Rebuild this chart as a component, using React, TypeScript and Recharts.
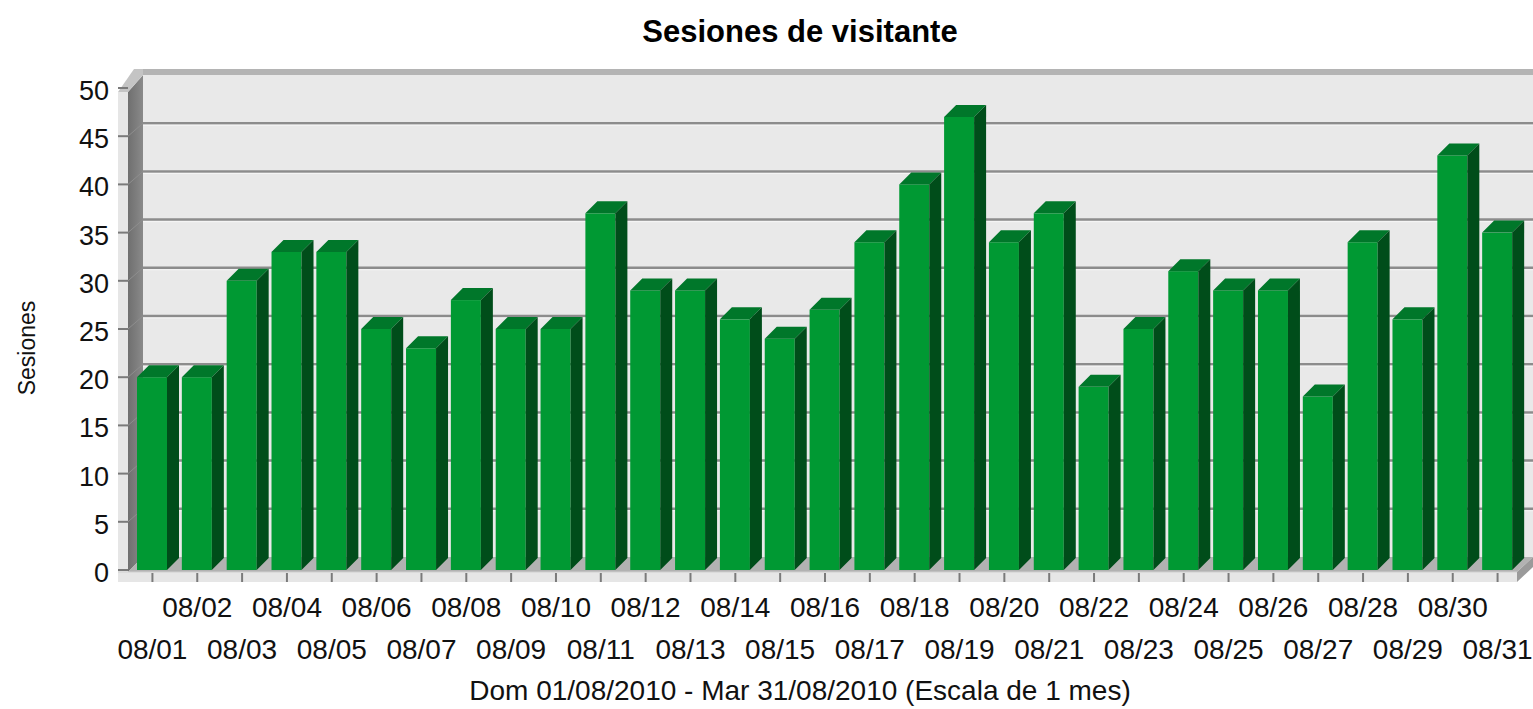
import React from 'react';
import { BarChart, Bar, XAxis, YAxis, ReferenceArea } from 'recharts';

const days = [
  '08/01', '08/02', '08/03', '08/04', '08/05', '08/06', '08/07', '08/08', '08/09', '08/10',
  '08/11', '08/12', '08/13', '08/14', '08/15', '08/16', '08/17', '08/18', '08/19', '08/20',
  '08/21', '08/22', '08/23', '08/24', '08/25', '08/26', '08/27', '08/28', '08/29', '08/30', '08/31',
];
const sessions = [
  20, 20, 30, 33, 33, 25, 23, 28, 25, 25,
  37, 29, 29, 26, 24, 27, 34, 40, 47, 34,
  37, 19, 25, 31, 29, 29, 18, 34, 26, 43, 35,
];
const yTicks = [0, 5, 10, 15, 20, 25, 30, 35, 40, 45, 50];

const data = days.map((day, i) => ({ day, sessions: sessions[i] }));

const FONT = '"Liberation Sans", Arial, sans-serif';
const DEPTH = 12; // depth of the 3d bars
const WALL = 13; // offset of the back wall

const Bar3D = (props: any) => {
  const { x, y, width, height } = props;
  if (!height || height <= 0) return null;
  const d = DEPTH;
  return (
    <g>
      <rect x={x} y={y} width={width} height={height} fill="#009933" />
      <polygon
        points={`${x},${y} ${x + d},${y - d} ${x + width + d},${y - d} ${x + width},${y}`}
        fill="#00772a"
      />
      <polygon
        points={`${x + width},${y} ${x + width + d},${y - d} ${x + width + d},${y + height - d} ${x + width},${y + height}`}
        fill="#004d1a"
      />
    </g>
  );
};

// back wall, left wall and floor of the 3d box, drawn from the plot rect
const Walls = (props: any) => {
  const { x, y, width, height } = props;
  const w = WALL;
  const bottom = y + height;
  const right = x + width;
  const yMax = yTicks[yTicks.length - 1];
  const yAt = (v: number) => y + height * (1 - v / yMax);
  return (
    <g>
      <defs>
        <linearGradient id="leftWall" x1="0" y1="0" x2="1" y2="0">
          <stop offset="0%" stopColor="#6f6f6f" />
          <stop offset="100%" stopColor="#8a8a8a" />
        </linearGradient>
      </defs>
      <rect x={x + w} y={y - w} width={width + 20} height={height} fill="#e9e9e9" />
      <rect x={x + w} y={y - w - 6} width={width + 20} height={6} fill="#b4b4b4" />
      {yTicks
        .filter((v) => v > 0 && v < yMax)
        .map((v) => (
          <g key={v}>
            <line x1={x + w} x2={right + 20} y1={yAt(v) - w} y2={yAt(v) - w} stroke="#8c8c8c" strokeWidth={2.5} />
            <line x1={x + w} x2={right + 20} y1={yAt(v) - w + 2} y2={yAt(v) - w + 2} stroke="#f6f6f6" strokeWidth={1} />
          </g>
        ))}
      <polygon
        points={`${x - 2},${y + 4} ${x + w},${y - w} ${x + w},${bottom - w} ${x - 2},${bottom + 2}`}
        fill="url(#leftWall)"
      />
      {yTicks
        .filter((v) => v > 0 && v < yMax)
        .map((v) => (
          <line key={v} x1={x - 2} y1={yAt(v)} x2={x + w} y2={yAt(v) - w} stroke="#8e8e8e" strokeWidth={1} />
        ))}
      <rect x={x - 12} y={y + 4} width={10} height={height + 8} fill="#e6e6e6" />
      <polygon
        points={`${x - 12},${y + 4} ${x - 2},${y + 4} ${x + w},${y - w} ${x + w},${y - w - 6} ${x + 4},${y - w - 6}`}
        fill="#c4c4c4"
      />
      <polygon
        points={`${x - 2},${bottom + 2} ${x + w},${bottom - w} ${right + w},${bottom - w} ${right - 3},${bottom + 2}`}
        fill="#b2b2b2"
      />
      <rect x={x - 12} y={bottom + 2} width={width + 9} height={10} fill="#e6e6e6" />
      <line x1={x - 12} x2={right - 3} y1={bottom + 2} y2={bottom + 2} stroke="#d0d0d0" strokeWidth={1} />
      <polygon
        points={`${right - 3},${bottom + 2} ${right + w},${bottom - w} ${right + w},${bottom - w + 10} ${right - 3},${bottom + 12}`}
        fill="#9a9a9a"
      />
    </g>
  );
};

const YTick = (props: any) => {
  const { x, y, payload } = props;
  return (
    <g>
      <line x1={x - 12} x2={x - 2} y1={y} y2={y} stroke="#7a7a7a" strokeWidth={2} />
      <text x={x - 21} y={y} dy={12} textAnchor="end" fontFamily={FONT} fontSize={27} fill="#111">
        {payload.value}
      </text>
    </g>
  );
};

const XTick = (props: any) => {
  const { x, y, payload, index } = props;
  const upper = index % 2 === 1;
  return (
    <g>
      <line x1={x} x2={x} y1={y + 3} y2={y + 12} stroke="#7a7a7a" strokeWidth={2} />
      <text x={x} y={y + (upper ? 47 : 89)} textAnchor="middle" fontFamily={FONT} fontSize={28} fill="#111">
        {payload.value}
      </text>
    </g>
  );
};

const App = () => {
  return (
    <div style={{ position: 'absolute', left: 0, top: 0, width: 1533, height: 709, background: '#fff' }}>
      <BarChart width={1533} height={709} data={data} margin={{ top: 88, right: 13, left: 0, bottom: 0 }}>
        <ReferenceArea y1={0} y2={50} ifOverflow="visible" shape={Walls} zIndex={-100} />
        <XAxis
          dataKey="day"
          interval={0}
          height={139}
          axisLine={false}
          tickLine={false}
          tickSize={0}
          tickMargin={0}
          tick={XTick}
        />
        <YAxis
          type="number"
          domain={[0, 50]}
          ticks={yTicks}
          width={130}
          axisLine={false}
          tickLine={false}
          tickSize={0}
          tickMargin={0}
          tick={YTick}
        />
        <Bar dataKey="sessions" barSize={30} shape={Bar3D} isAnimationActive={false} />
      </BarChart>
      <svg width={1533} height={709} style={{ position: 'absolute', left: 0, top: 0, pointerEvents: 'none' }}>
        <text x={800} y={42} textAnchor="middle" fontFamily={FONT} fontSize={31} fontWeight="bold" fill="#000">
          Sesiones de visitante
        </text>
        <text transform="translate(35,348) rotate(-90)" textAnchor="middle" fontFamily={FONT} fontSize={23} fill="#111">
          Sesiones
        </text>
        <text x={800} y={700} textAnchor="middle" fontFamily={FONT} fontSize={28} fill="#111">
          Dom 01/08/2010 - Mar 31/08/2010 (Escala de 1 mes)
        </text>
      </svg>
    </div>
  );
};

export default App;
